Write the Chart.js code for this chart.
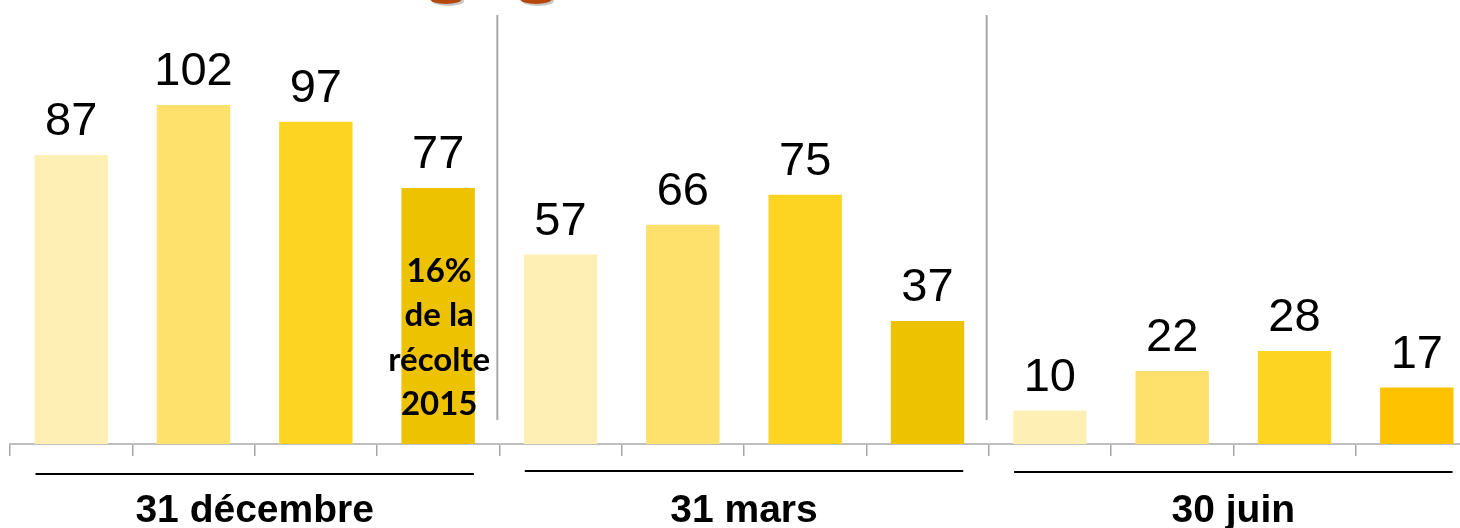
<!DOCTYPE html>
<html lang="fr">
<head>
  <meta charset="UTF-8">
  <title>Stocks par date</title>
  <script src="https://cdn.jsdelivr.net/npm/chart.js"></script>
  <style>
    html, body {
      margin: 0;
      padding: 0;
      background: #fff;
      overflow: hidden;
    }
    .wrap {
      position: relative;
      width: 1482px;
      height: 528px;
    }
    .blob {
      position: absolute;
      top: -6px;
      width: 32px;
      height: 10px;
      border-radius: 50%;
      background: #b4470c;
      box-shadow: 2px 2px 0 #c8c8c8;
    }
  </style>
</head>
<body>
  <div class="wrap">
    <div class="blob" style="left:430px"></div>
    <div class="blob" style="left:520px"></div>
    <canvas id="stockChart"></canvas>
  </div>

  <script>
    const groups = ['31 décembre', '31 mars', '30 juin'];
    const categories = ['déc. 1', 'déc. 2', 'déc. 3', 'déc. 4',
                        'mars 1', 'mars 2', 'mars 3', 'mars 4',
                        'juin 1', 'juin 2', 'juin 3', 'juin 4'];
    const values = [87, 102, 97, 77, 57, 66, 75, 37, 10, 22, 28, 17];
    const barColors = ['#fef0b4', '#fee06c', '#fed422', '#edc200',
                       '#fef0b4', '#fee06c', '#fed422', '#edc200',
                       '#fef0b4', '#fee06c', '#fed422', '#fec200'];
    const note = ['16%', 'de la', 'récolte', '2015'];
    const noteIndex = 3;
    const underlineY = [474, 471, 472];

    const labelsPlugin = {
      id: 'labels',
      afterDraw(chart) {
        const ctx = chart.ctx;
        const x = chart.scales.x;
        const bars = chart.getDatasetMeta(0).data;
        ctx.save();

        // separators between the groups
        ctx.strokeStyle = '#a6a6a6';
        ctx.lineWidth = 2;
        [4, 8].forEach(i => {
          const px = (x.getPixelForValue(i - 1) + x.getPixelForValue(i)) / 2 - 2;
          ctx.beginPath();
          ctx.moveTo(px, 15);
          ctx.lineTo(px, 420);
          ctx.stroke();
        });

        // values above bars
        ctx.fillStyle = '#000';
        ctx.textAlign = 'center';
        ctx.textBaseline = 'alphabetic';
        ctx.font = '47px "Liberation Sans", Arial, sans-serif';
        bars.forEach((bar, i) => {
          ctx.fillText(String(values[i]), bar.x, bar.y - 20);
        });

        // note inside bar
        ctx.font = 'bold 33px Lato, "Open Sans", sans-serif';
        ctx.textBaseline = 'middle';
        const nb = bars[noteIndex];
        note.forEach((line, j) => {
          ctx.fillText(line, nb.x + 1, 271 + j * 44.5);
        });

        // group underlines and labels
        groups.forEach((g, k) => {
          const first = bars[k * 4];
          const last = bars[k * 4 + 3];
          ctx.strokeStyle = '#000';
          ctx.lineWidth = 2;
          ctx.beginPath();
          ctx.moveTo(first.x - first.width / 2 + 1, underlineY[k]);
          ctx.lineTo(last.x + last.width / 2 - 1, underlineY[k]);
          ctx.stroke();
          const cx = (bars[k * 4 + 1].x + bars[k * 4 + 2].x) / 2;
          ctx.font = 'bold 39px "Liberation Sans", Arial, sans-serif';
          ctx.textBaseline = 'alphabetic';
          ctx.fillText(g, cx, 522);
        });
        ctx.restore();
      }
    };

    const chart = new Chart(document.getElementById('stockChart'), {
      type: 'bar',
      data: {
        labels: categories,
        datasets: [{
          data: values,
          backgroundColor: barColors,
          barPercentage: 0.6,
          categoryPercentage: 1
        }]
      },
      options: {
        responsive: true,
        maintainAspectRatio: false,
        animation: false,
        layout: { padding: { left: 10, right: 4, top: 12, bottom: 72 } },
        plugins: {
          legend: { display: false },
          tooltip: { enabled: false }
        },
        scales: {
          x: {
            offset: true,
            grid: {
              offset: true,
              drawOnChartArea: false,
              drawTicks: true,
              tickLength: 12,
              color: '#a6a6a6',
              lineWidth: 1.5
            },
            border: { color: '#bfbfbf', width: 2 },
            ticks: { display: false }
          },
          y: {
            display: false,
            min: 0,
            max: 130
          }
        }
      },
      plugins: [labelsPlugin]
    });
  </script>
</body>
</html>
